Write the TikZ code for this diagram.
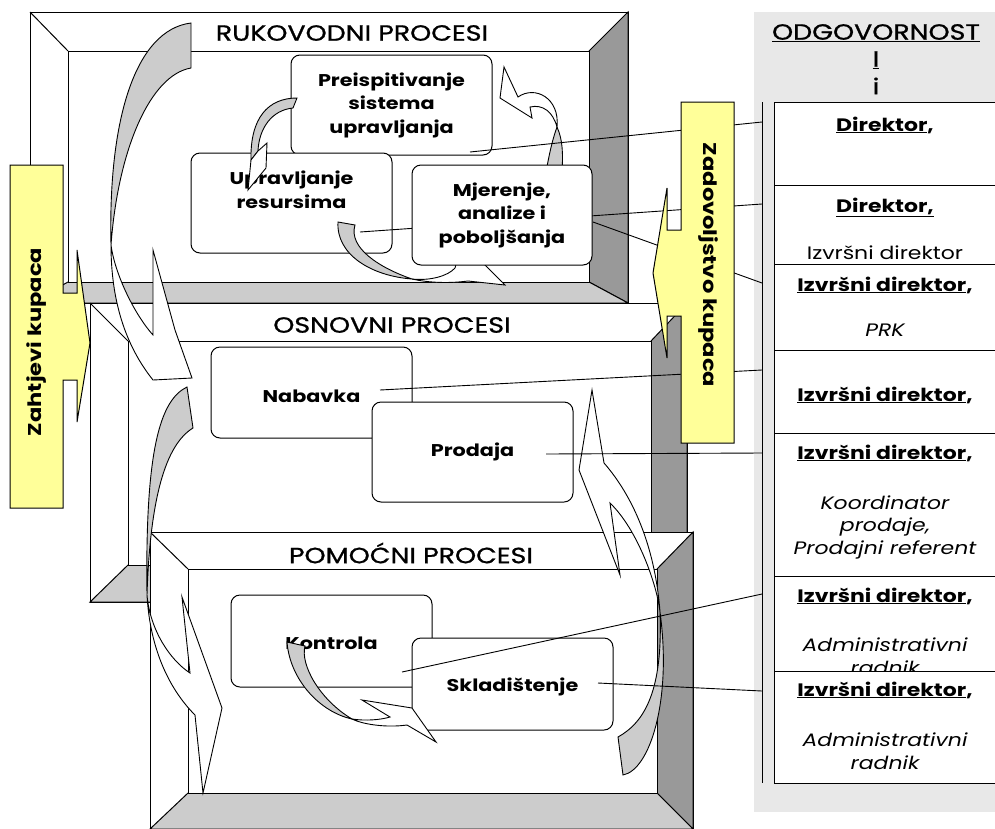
\documentclass[tikz,border=0pt]{standalone}
\usepackage{fontspec}
\setmainfont{Poppins}[FakeStretch=1.22]
\newfontfamily\titlefont{Poppins}[FakeStretch=1.22,FakeBold=1]
\usepackage{tikz}
\definecolor{CallYellow}{RGB}{255,255,153}
\definecolor{BevelDark}{RGB}{153,153,153}
\definecolor{BevelLight}{RGB}{204,204,204}
\definecolor{RibbonGrey}{RGB}{204,204,204}
\definecolor{ColumnGrey}{RGB}{232,232,232}

% bevelled frame: outer x1,y1,x2,y2 then inner x1,y1,x2,y2
\newcommand*{\procframe}[8]{%
  \draw[frameline,fill=white] (#1,#2) rectangle (#3,#4);
  \draw[frameline,fill=BevelDark] (#3,#2) -- (#7,#6) -- (#7,#8) -- (#3,#4) -- cycle;
  \draw[frameline,fill=BevelLight] (#1,#4) -- (#5,#8) -- (#7,#8) -- (#3,#4) -- cycle;
  \draw[frameline] (#1,#2) -- (#5,#6);
  \draw[frameline,fill=white] (#5,#6) rectangle (#7,#8);
}

\tikzset{
  frameline/.style={draw=black,line width=1pt},
  procbox/.style={draw,line width=1pt,fill=white,rounded corners=9pt,inner sep=0pt},
  proclabel/.style={font=\fontsize{17}{23.5}\selectfont\bfseries,align=center,inner sep=0pt},
  titletext/.style={font=\titlefont\fontsize{22}{26}\selectfont,inner sep=0pt},
  ribbonback/.style={draw,line width=0.9pt,fill=RibbonGrey},
  ribbonfront/.style={draw,line width=0.9pt,fill=white},
  callout/.style={draw,line width=1pt,fill=CallYellow},
  calltext/.style={font=\fontsize{18.5}{22}\selectfont\bfseries,inner sep=0pt},
  link/.style={draw,line width=0.9pt},
  rowbox/.style={draw,line width=1pt,fill=white},
  rowhead/.style={font=\fontsize{18}{21}\selectfont\bfseries,inner sep=0pt},
  rowtext/.style={font=\fontsize{18}{22.5}\selectfont\itshape,align=center,inner sep=0pt},
}

\begin{document}
\begin{tikzpicture}[x=1pt,y=-1pt]
  \clip (0,0) rectangle (995,828);

  % responsibility column
  \fill[ColumnGrey] (754,12) rectangle (1000,812);
  \node[titletext] (odg) at (876,33) {\underline{ODGOVORNOST}};
  \node[titletext] (odgI) at (876,60) {\underline{I}};
  \node[titletext] (odgi) at (876,86) {i};
  \draw[line width=1pt] (762,102) -- (762,783);

  % management processes
  \procframe{30}{12}{628}{303}{68}{51}{589}{282}
  \node[titletext] (tRuk) at (352,33) {RUKOVODNI PROCESI};
  \node[procbox,minimum width=201pt,minimum height=100pt] (prei) at (391.5,105) {};
  \node[proclabel] (preiTxt) at (prei) {Preispitivanje\\sistema\\upravljanja};
  \node[procbox,minimum width=201pt,minimum height=100pt] (uprav) at (291.5,203) {};
  \node[proclabel] (upravTxt) at ([yshift=13pt]uprav) {Upravljanje\\resursima};
  % cycle arrows
  \draw[ribbonback] (297,98) .. controls (268,98) and (250,118) .. (251,160)
    -- (258,151) .. controls (259,128) and (272,110) .. (293,108) -- cycle;
  \draw[ribbonfront] (258,151) -- (267,143) -- (266,168) -- (248,190) -- (251,160) -- cycle;
  \draw[ribbonback] (338,222) .. controls (336,255) and (372,276) .. (412,279)
    .. controls (380,268) and (348,248) .. (355,225) -- cycle;
  \draw[ribbonfront] (412,279) .. controls (430,281) and (448,276) .. (455,268)
    -- (460,250) -- (482,262) -- (505,285) -- (468,281)
    .. controls (445,284) and (425,282) .. (412,279) -- cycle;
  \draw[ribbonback] (546,172) .. controls (550,150) and (553,138) .. (557,127)
    .. controls (563,140) and (563,155) .. (562,172) -- cycle;
  \draw[ribbonfront] (557,127) .. controls (553,112) and (543,104) .. (530,107)
    -- (532,118) -- (500,98) -- (504,67) -- (518,97)
    .. controls (535,85) and (560,98) .. (557,127) -- cycle;
  \coordinate (pPrei) at (470,152);
  \coordinate (pUprav) at (360,232);
  \coordinate (pMjer) at (593,222);
  \coordinate (e1) at (762,122);
  \coordinate (e2) at (762,204);
  \coordinate (e3) at (762,283);
  \draw[link] (pPrei) -- (e1);
  \draw[link] (pUprav) -- (e2);
  \draw[link] (pMjer) -- (e3);
  \node[procbox,minimum width=180pt,minimum height=100pt] (mjer) at (502,215) {};
  \node[proclabel] (mjerTxt) at (mjer) {Mjerenje,\\analize i\\poboljšanja};

  % core processes
  \procframe{90}{303}{687}{602}{128}{341}{651}{565}
  \node[titletext] (tOsn) at (392,325) {OSNOVNI PROCESI};
  \node[procbox,minimum width=201pt,minimum height=91pt] (nab) at (311.5,392.5) {};
  \node[proclabel] (nabTxt) at ([yshift=-4pt]nab) {Nabavka};
  \node[procbox,minimum width=201pt,minimum height=100pt] (prod) at (472.5,452) {};
  \node[proclabel] (prodTxt) at (prod) {Prodaja};

  % support processes
  \procframe{150}{532}{693}{829}{188}{569}{657}{793}
  \node[titletext] (tPom) at (411,553) {POMOĆNI PROCESI};
  \node[procbox,minimum width=201pt,minimum height=92pt] (kont) at (331.5,641) {};
  \node[proclabel] (kontTxt) at ([yshift=-2pt]kont) {Kontrola};
  \node[procbox,minimum width=201pt,minimum height=92pt] (skl) at (512.5,684) {};
  \node[proclabel] (sklTxt) at ([yshift=-3pt]skl) {Skladištenje};
  \draw[ribbonback] (287,642) .. controls (290,680) and (320,712) .. (352,719)
    .. controls (320,700) and (300,665) .. (305,646) -- cycle;
  \draw[ribbonfront] (352,719) .. controls (365,721) and (380,720) .. (390,717)
    -- (362,700) -- (412,708) -- (436,742) -- (407,725)
    .. controls (385,728) and (362,724) .. (352,719) -- cycle;

  % big arrows between the levels
  \draw[ribbonback] (191,23) .. controls (135,30) and (108,120) .. (111,245)
    .. controls (118,150) and (150,75) .. (191,68) -- cycle;
  \draw[ribbonfront] (111,245) .. controls (115,275) and (135,315) .. (153,335)
    -- (153,250) -- (175,330) -- (192,378) -- (153,380)
    .. controls (125,345) and (111,300) .. (111,245) -- cycle;
  \draw[ribbonback] (187,387) .. controls (160,400) and (145,450) .. (147,595)
    .. controls (150,500) and (165,445) .. (193,428) -- cycle;
  \draw[ribbonfront] (147,595) .. controls (150,630) and (170,660) .. (190,673)
    -- (182,597) -- (222,708) -- (203,793) -- (195,715)
    .. controls (170,690) and (150,650) .. (147,595) -- cycle;
  \draw[ribbonback] (618,737) .. controls (645,722) and (663,690) .. (660,612)
    .. controls (672,700) and (650,770) .. (623,775) -- cycle;
  \draw[ribbonfront] (660,612) .. controls (657,585) and (638,530) .. (610,503)
    -- (620,575) -- (579,470) -- (592,390) -- (604,463)
    .. controls (632,495) and (655,545) .. (660,612) -- cycle;

  % links to the responsibility column
  \coordinate (pNab) at (380,390);
  \coordinate (pProd) at (546,454);
  \coordinate (pKont) at (402,672);
  \coordinate (pSkl) at (598,683);
  \coordinate (e4) at (762,370);
  \coordinate (e5) at (762,453);
  \coordinate (e6) at (762,594);
  \coordinate (e7) at (762,691);
  \draw[link] (pNab) -- (e4);
  \draw[link] (pProd) -- (e5);
  \draw[link] (pKont) -- (e6);
  \draw[link] (pSkl) -- (e7);

  % customer arrows
  \draw[callout] (10,165) -- (63,165) -- (63,293) -- (77,293) -- (77,250) -- (90,343)
    -- (77,422) -- (77,380) -- (63,380) -- (63,508) -- (10,508) -- cycle;
  \node[calltext,rotate=90] (zaht) at (37,342) {Zahtjevi kupaca};
  \draw[callout] (734,102) -- (681,102) -- (681,230) -- (667,230) -- (667,188) -- (653,273)
    -- (667,358) -- (667,316) -- (681,316) -- (681,443) -- (734,443) -- cycle;
  \node[calltext,rotate=-90] (zad) at (708,265) {Zadovoljstvo kupaca};

  % responsibility rows
  \draw[rowbox] (774,102) rectangle (1000,185);
  \node[rowhead] (r1) at (885,125) {\underline{Direktor},};
  \draw[rowbox] (774,185) rectangle (1000,264);
  \node[rowhead] (r2) at (885,207) {\underline{Direktor,}};
  \node[font=\fontsize{18}{21}\selectfont,inner sep=0pt] (r2b) at (885,253) {Izvršni direktor};
  \draw[rowbox] (774,264) rectangle (1000,350);
  \node[rowhead] (r3) at (885,285) {\underline{Izvršni direktor},};
  \node[rowtext] (r3b) at (885,330) {PRK};
  \draw[rowbox] (774,350) rectangle (1000,433);
  \node[rowhead] (r4) at (885,395) {\underline{Izvršni direktor},};
  \draw[rowbox] (774,433) rectangle (1000,576);
  \node[rowhead] (r5) at (885,453) {\underline{Izvršni direktor},};
  \node[rowtext] (r5b) at (885,527) {Koordinator\\prodaje,\\Prodajni referent};
  \draw[rowbox] (774,576) rectangle (1000,671);
  \node[rowhead] (r6) at (885,596) {\underline{Izvršni direktor},};
  \node[rowtext] (r6b) at (885,656) {Administrativni\\radnik};
  \draw[rowbox] (774,671) rectangle (1000,783);
  \node[rowhead] (r7) at (885,690) {\underline{Izvršni direktor},};
  \node[rowtext] (r7b) at (885,751) {Administrativni\\radnik};
\end{tikzpicture}
\end{document}
